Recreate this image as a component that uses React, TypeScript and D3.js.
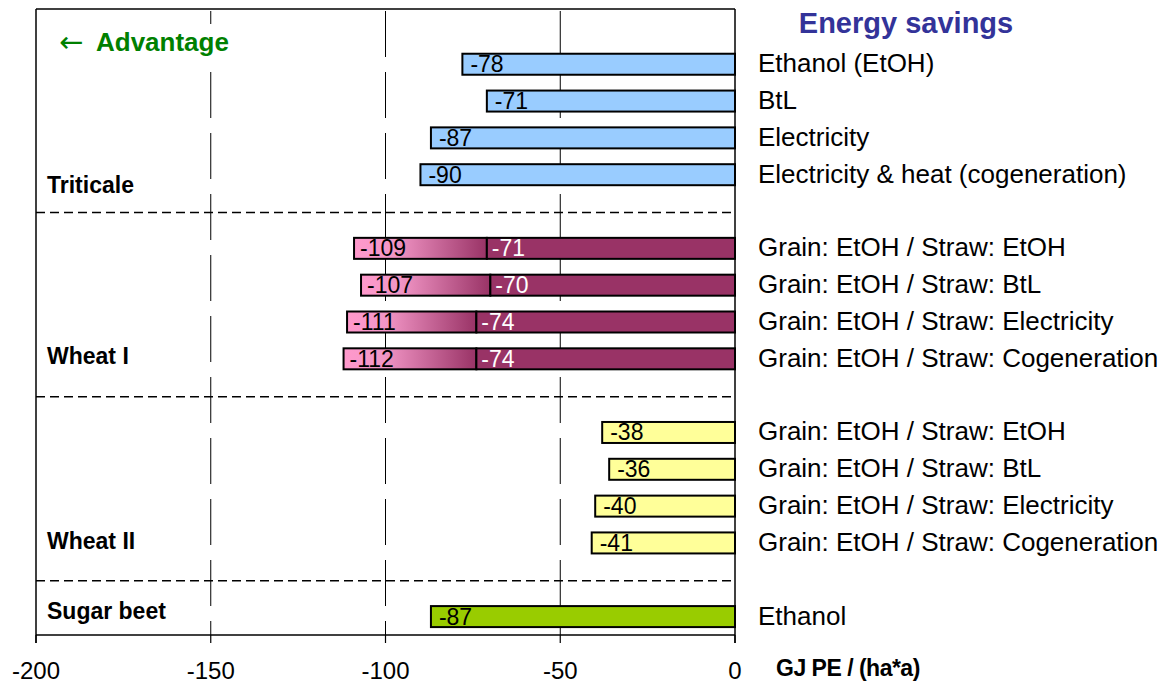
import React from "react";
import * as d3 from "d3";

const rowLabels = [
  "Ethanol (EtOH)", "BtL", "Electricity", "Electricity & heat (cogeneration)",
  "Grain: EtOH / Straw: EtOH", "Grain: EtOH / Straw: BtL", "Grain: EtOH / Straw: Electricity", "Grain: EtOH / Straw: Cogeneration",
  "Grain: EtOH / Straw: EtOH", "Grain: EtOH / Straw: BtL", "Grain: EtOH / Straw: Electricity", "Grain: EtOH / Straw: Cogeneration",
  "Ethanol",
];
const rowGroup = [0, 0, 0, 0, 1, 1, 1, 1, 2, 2, 2, 2, 3];
const totalValues = [-78, -71, -87, -90, -109, -107, -111, -112, -38, -36, -40, -41, -87];
const grainValues: (number | null)[] = [null, null, null, null, -71, -70, -74, -74, null, null, null, null, null];
const groupNames = ["Triticale", "Wheat I", "Wheat II", "Sugar beet"];
const xTicks = [-200, -150, -100, -50, 0];

const groupFill = ["#99ccff", "url(#wheatGrad)", "#ffff99", "#99cc00"];
const FONT = "'Liberation Sans', Arial, sans-serif";

export default function App() {
  const W = 1168, H = 684;
  const left = 36, right = 735, top = 9, bottom = 635;
  const x = d3.scaleLinear().domain([-200, 0]).range([left, right]);
  const slots = d3.range(17);
  const y = d3.scaleBand<number>().domain(slots).range([top, bottom]).padding(0);
  const bw = y.bandwidth();
  const barH = 21;

  const slotOf = (i: number) => 1 + i + rowGroup[i];
  const cy = (i: number) => (y(slotOf(i)) as number) + bw / 2;
  const separators = [5, 10, 15].map((s) => (y(s) as number) + bw / 2 + 1);
  const lastRowOfGroup = groupNames.map((_, g) => d3.max(d3.range(rowLabels.length).filter((i) => rowGroup[i] === g)) as number);
  const groupLabelOffset = [10, -3, -2, -6];

  return (
    <svg width={W} height={H} style={{ position: "absolute", left: 0, top: 0 }} fontFamily={FONT}>
      <defs>
        <linearGradient id="wheatGrad" x1="0" x2="1" y1="0" y2="0">
          <stop offset="0" stopColor="#ff99cc" />
          <stop offset="0.3" stopColor="#f296c6" />
          <stop offset="1" stopColor="#993366" />
        </linearGradient>
      </defs>
      <rect x={0} y={0} width={W} height={H} fill="#fff" />

      {xTicks.slice(1, 4).map((t) => (
        <line key={t} x1={x(t)} x2={x(t)} y1={top} y2={bottom} stroke="#000" strokeWidth={1} strokeDasharray="46,15" strokeDashoffset={-2} />
      ))}

      {separators.map((sy, k) => (
        <line key={k} x1={left} x2={right} y1={sy} y2={sy} stroke="#000" strokeWidth={1.5} strokeDasharray="9,5" />
      ))}

      <rect x={55} y={24} width={180} height={36} fill="#fff" />
      <text x={59} y={52} fill="#008000" fontSize={29} fontFamily="'DejaVu Sans', sans-serif">←</text>
      <text x={96} y={51} fill="#008000" fontSize={26} fontWeight="bold">Advantage</text>

      {totalValues.map((v, i) => {
        const g = rowGroup[i];
        const c = cy(i);
        const gv = grainValues[i];
        if (gv != null) {
          return (
            <g key={i}>
              <rect x={x(v)} y={c - barH / 2} width={x(gv) - x(v)} height={barH} fill="url(#wheatGrad)" stroke="#000" strokeWidth={2} />
              <rect x={x(gv)} y={c - barH / 2} width={x(0) - x(gv)} height={barH} fill="#993366" stroke="#000" strokeWidth={2} />
              <text x={x(v) + 6} y={c + 8} fontSize={23} fill="#000">{v}</text>
              <text x={x(gv) + 5} y={c + 8} fontSize={23} fill="#fff">{gv}</text>
            </g>
          );
        }
        return (
          <g key={i}>
            <rect x={x(v)} y={c - barH / 2} width={x(0) - x(v)} height={barH} fill={groupFill[g]} stroke="#000" strokeWidth={2} />
            <text x={x(v) + 8} y={c + 8} fontSize={23} fill="#000">{v}</text>
          </g>
        );
      })}

      <line x1={left} x2={right} y1={top} y2={top} stroke="#000" strokeWidth={1.5} />
      <line x1={left} x2={left} y1={top} y2={bottom + 8} stroke="#000" strokeWidth={1.5} />
      <line x1={right} x2={right} y1={top} y2={bottom + 8} stroke="#000" strokeWidth={1.5} />
      <line x1={left} x2={right} y1={bottom} y2={bottom} stroke="#000" strokeWidth={1.5} />
      {xTicks.map((t) => (
        <line key={t} x1={x(t)} x2={x(t)} y1={bottom} y2={bottom + 8} stroke="#000" strokeWidth={1.2} />
      ))}
      {xTicks.map((t) => (
        <text key={t} x={x(t)} y={679} fontSize={24} textAnchor="middle" fill="#000">{t}</text>
      ))}
      <text x={776} y={676} fontSize={23} fontWeight="bold" letterSpacing={-0.5} fill="#000">GJ PE / (ha*a)</text>

      {groupNames.map((n, g) => (
        <text key={n} x={47} y={cy(lastRowOfGroup[g]) + groupLabelOffset[g] + 8} fontSize={23} fontWeight="bold" fill="#000">{n}</text>
      ))}

      {rowLabels.map((l, i) => (
        <text key={i} x={758} y={cy(i) + 8} fontSize={26} fill="#000">{l}</text>
      ))}

      <text x={906} y={33} fontSize={29} fontWeight="bold" fill="#333399" textAnchor="middle">Energy savings</text>
    </svg>
  );
}
